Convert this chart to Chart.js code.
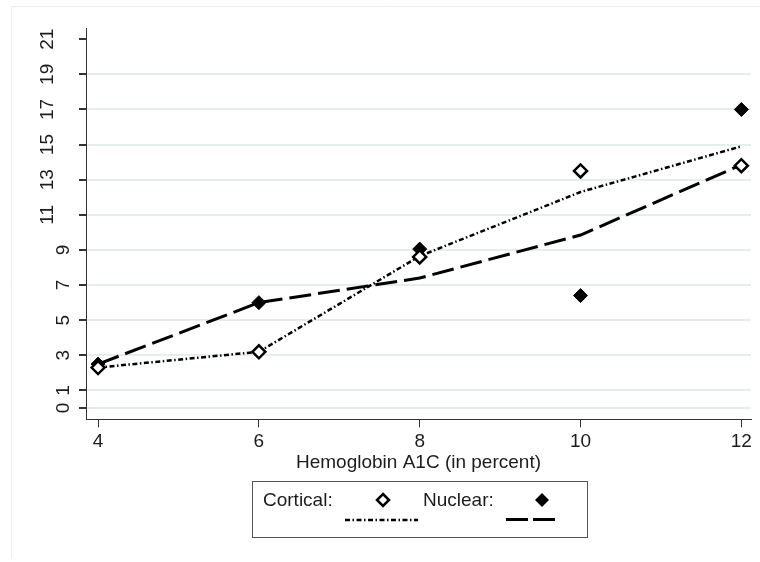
<!DOCTYPE html>
<html>
<head>
<meta charset="utf-8">
<script src="https://cdn.jsdelivr.net/npm/chart.js@4.4.1/dist/chart.umd.min.js"></script>
<style>
  html, body { margin: 0; padding: 0; background: #fff; }
  #wrap { width: 760px; height: 562px; position: relative; }
</style>
</head>
<body>
<div id="wrap"><canvas id="myChart" width="760" height="562"></canvas></div>
<script>
// data
var hba1c = [4, 6, 8, 10, 12];
var corticalObs = [2.3, 3.2, 8.6, 13.5, 13.8];
var nuclearObs = [2.5, 6.0, 9.05, 6.4, 17.0];
var corticalFit = [2.3, 3.2, 8.65, 12.3, 14.9];
var nuclearFit = [2.5, 6.0, 7.4, 9.85, 13.85];

var xTicks = [4, 6, 8, 10, 12];
var yTicks = [0, 1, 3, 5, 7, 9, 11, 13, 15, 17, 19, 21];
var xTitle = 'Hemoglobin A1C (in percent)';
var legendNames = ['Cortical:', 'Nuclear:'];

var FONT = '"Liberation Sans", Arial, sans-serif';
var INK = '#1c1c1c';

function toPoints(xs, ys) {
  var out = [];
  xs.forEach(function (x, i) { out.push({ x: x, y: ys[i] }); });
  return out;
}

// rotated y labels, legend box, faint outer frame
var extras = {
  id: 'extras',
  afterDraw: function (chart) {
    var ctx = chart.ctx;
    var yScale = chart.scales.y;

    ctx.save();
    ctx.strokeStyle = '#ececec';
    ctx.lineWidth = 1;
    ctx.beginPath();
    ctx.moveTo(11.5, 558.5);
    ctx.lineTo(11.5, 6.5);
    ctx.lineTo(760, 6.5);
    ctx.stroke();

    // y tick labels, vertical
    ctx.fillStyle = INK;
    ctx.font = '19px ' + FONT;
    ctx.textAlign = 'center';
    ctx.textBaseline = 'middle';
    yTicks.forEach(function (v) {
      var py = yScale.getPixelForValue(v);
      var px = v >= 10 ? 47 : 63;
      ctx.save();
      ctx.translate(px, py);
      ctx.rotate(-Math.PI / 2);
      ctx.fillText(String(v), 0, 1);
      ctx.restore();
    });

    // legend
    ctx.strokeStyle = '#555';
    ctx.lineWidth = 1;
    ctx.strokeRect(252.5, 481.5, 335, 56);

    ctx.textAlign = 'left';
    ctx.fillStyle = INK;
    ctx.fillText(legendNames[0], 263, 501);
    ctx.fillText(legendNames[1], 423, 501);

    function diamond(cx, cy, r, filled) {
      ctx.beginPath();
      ctx.moveTo(cx, cy - r);
      ctx.lineTo(cx + r, cy);
      ctx.lineTo(cx, cy + r);
      ctx.lineTo(cx - r, cy);
      ctx.closePath();
      if (filled) {
        ctx.fillStyle = '#000';
        ctx.fill();
      } else {
        ctx.fillStyle = '#fff';
        ctx.fill();
        ctx.lineWidth = 2.5;
        ctx.strokeStyle = '#000';
        ctx.stroke();
      }
    }
    diamond(383, 500, 6, false);
    diamond(542, 500, 7, true);

    ctx.strokeStyle = '#000';
    ctx.lineWidth = 2.5;
    ctx.setLineDash([5, 2.5, 1.5, 2.5]);
    ctx.beginPath();
    ctx.moveTo(345, 520);
    ctx.lineTo(418, 520);
    ctx.stroke();

    ctx.lineWidth = 3;
    ctx.setLineDash([22, 5]);
    ctx.beginPath();
    ctx.moveTo(506, 519.5);
    ctx.lineTo(556, 519.5);
    ctx.stroke();
    ctx.restore();
  }
};

var myChart = document.getElementById('myChart');

var chart = new Chart(myChart, {
  type: 'scatter',
  data: {
    datasets: [
      {
        label: 'Cortical',
        data: toPoints(hba1c, corticalObs),
        showLine: false,
        pointStyle: 'rectRot',
        pointRadius: 6.5,
        pointBackgroundColor: '#fff',
        pointBorderColor: '#000',
        pointBorderWidth: 2.5,
        order: 0
      },
      {
        label: 'Nuclear',
        data: toPoints(hba1c, nuclearObs),
        showLine: false,
        pointStyle: 'rectRot',
        pointRadius: 7,
        pointBackgroundColor: '#000',
        pointBorderColor: '#000',
        pointBorderWidth: 1,
        order: 0
      },
      {
        label: 'Cortical fit',
        data: toPoints(hba1c, corticalFit),
        showLine: true,
        borderColor: '#000',
        borderWidth: 2.5,
        borderDash: [5, 2.5, 1.5, 2.5],
        pointRadius: 0,
        tension: 0,
        order: 1
      },
      {
        label: 'Nuclear fit',
        data: toPoints(hba1c, nuclearFit),
        showLine: true,
        borderColor: '#000',
        borderWidth: 3,
        borderDash: [22, 7],
        pointRadius: 0,
        tension: 0,
        order: 1
      }
    ]
  },
  options: {
    responsive: false,
    animation: false,
    layout: { padding: { left: 0, right: 6, top: 28, bottom: 88 } },
    plugins: {
      legend: { display: false },
      tooltip: { enabled: false }
    },
    scales: {
      x: {
        type: 'linear',
        min: 3.85,
        max: 12.12,
        afterBuildTicks: function (scale) {
          scale.ticks = xTicks.map(function (v) { return { value: v }; });
        },
        border: { display: true, color: '#333', width: 1 },
        grid: {
          drawOnChartArea: false,
          drawTicks: true,
          tickLength: 8,
          tickColor: '#333'
        },
        ticks: {
          color: INK,
          padding: 3,
          font: { family: FONT, size: 19 }
        },
        title: {
          display: true,
          text: xTitle,
          color: INK,
          padding: { top: -5, bottom: 0 },
          font: { family: FONT, size: 19 }
        }
      },
      y: {
        type: 'linear',
        min: -0.65,
        max: 21.64,
        afterBuildTicks: function (scale) {
          scale.ticks = yTicks.map(function (v) { return { value: v }; });
        },
        afterFit: function (scale) {
          scale.width = 86;
        },
        border: { display: true, color: '#333', width: 1 },
        grid: {
          color: function (c) {
            return c.tick && c.tick.value === 21 ? 'rgba(0,0,0,0)' : '#e4eeec';
          },
          lineWidth: 2,
          drawTicks: true,
          tickLength: 7,
          tickColor: '#333'
        },
        ticks: { display: false }
      }
    }
  },
  plugins: [extras]
});
</script>
</body>
</html>
